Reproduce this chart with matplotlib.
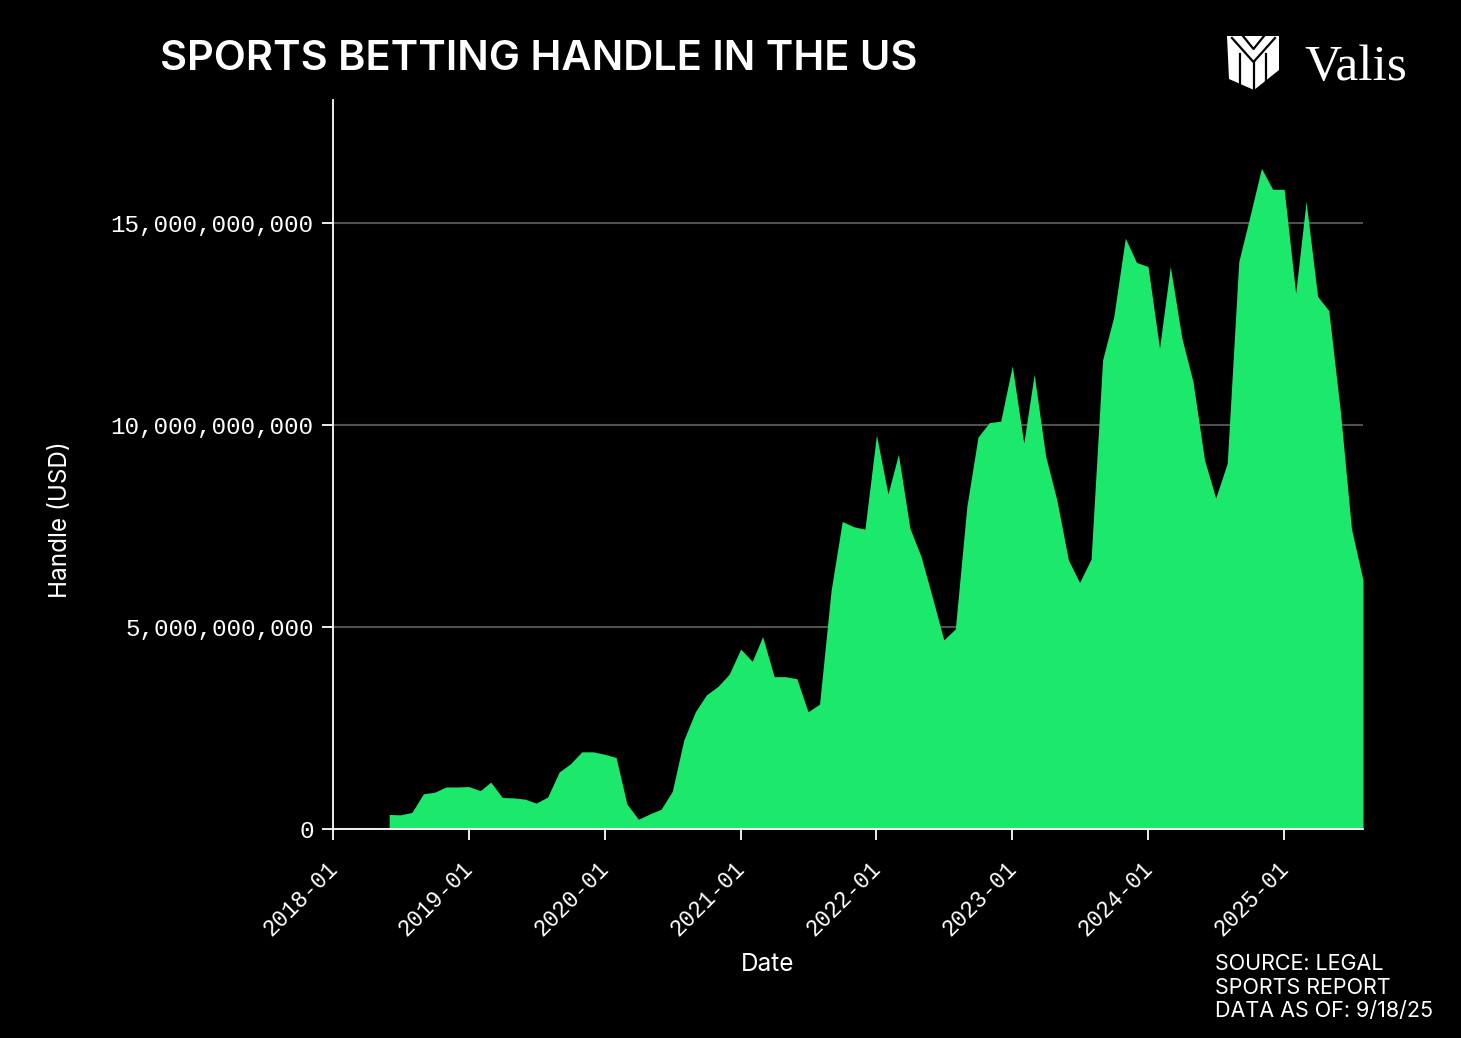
import matplotlib
matplotlib.use('Agg')
import matplotlib.pyplot as plt
import matplotlib.dates as mdates
import matplotlib.transforms as mtransforms
from matplotlib.ticker import FuncFormatter
from matplotlib.patches import Polygon
import pandas as pd

# monthly US sports betting handle, billions of USD
first_month = '2018-06-01'
handle_2018 = [0.36, 0.35, 0.41, 0.87, 0.91, 1.04, 1.04]
handle_2019 = [1.05, 0.95, 1.16, 0.78, 0.77, 0.74, 0.64, 0.79, 1.41, 1.61, 1.91, 1.91]
handle_2020 = [1.85, 1.77, 0.62, 0.24, 0.37, 0.49, 0.93, 2.20, 2.90, 3.32, 3.53, 3.83]
handle_2021 = [4.45, 4.15, 4.76, 3.77, 3.77, 3.72, 2.90, 3.09, 5.90, 7.61, 7.48, 7.42]
handle_2022 = [9.75, 8.29, 9.27, 7.44, 6.74, 5.71, 4.68, 4.95, 7.98, 9.70, 10.06, 10.09]
handle_2023 = [11.46, 9.55, 11.25, 9.22, 8.14, 6.66, 6.10, 6.68, 11.61, 12.68, 14.62, 14.02]
handle_2024 = [13.92, 11.90, 13.92, 12.15, 11.07, 9.13, 8.19, 9.05, 14.04, 15.16, 16.35, 15.83]
handle_2025 = [15.83, 13.26, 15.53, 13.18, 12.83, 10.35, 7.43, 6.16]

handle = (handle_2018 + handle_2019 + handle_2020 + handle_2021 +
          handle_2022 + handle_2023 + handle_2024 + handle_2025)
months = pd.date_range(first_month, periods=len(handle), freq='MS')

y_ticks = [0, 5, 10, 15]

GREEN = '#1ce96b'
W, H = 1461, 1038

fig = plt.figure(figsize=(W / 100, H / 100), dpi=100, facecolor='black')
ax = fig.add_axes([333 / W, 1 - 829 / H, 1030 / W, 729 / H], facecolor='black')

ax.fill_between(months, 0, handle, color=GREEN, linewidth=0, zorder=2)

ax.set_xlim(pd.Timestamp('2018-01-01'), months[-1])
ax.set_ylim(0, 18.04)

ax.set_yticks(y_ticks)
ax.yaxis.set_major_formatter(FuncFormatter(lambda v, _: f'{int(round(v * 1e9)):,}'))
ax.xaxis.set_major_locator(mdates.YearLocator())
ax.xaxis.set_major_formatter(mdates.DateFormatter('%Y-%m'))

ax.yaxis.grid(True, color='#505050', linewidth=1.5)
ax.set_axisbelow(True)

for s in ['top', 'right']:
    ax.spines[s].set_visible(False)
for s in ['left', 'bottom']:
    ax.spines[s].set_color('white')
    ax.spines[s].set_linewidth(1.3)
    ax.spines[s].set_zorder(3)

ax.tick_params(colors='white', length=8, width=1.3, labelsize=17.5, pad=6)
ax.tick_params(axis='x', labelsize=16.3)
for lbl in ax.get_xticklabels() + ax.get_yticklabels():
    lbl.set_fontfamily('Liberation Mono')
shift = mtransforms.ScaledTranslation(9 / 100, -8 / 100, fig.dpi_scale_trans)
for lbl in ax.get_xticklabels():
    lbl.set_rotation(45)
    lbl.set_ha('right')
    lbl.set_transform(lbl.get_transform() + shift)

ax.set_xlabel('Date', color='white', fontsize=17.5, fontfamily='Inter')
ax.xaxis.set_label_coords((768 - 333) / 1030, (829 - 953) / 729)
ax.set_ylabel('Handle (USD)', color='white', fontsize=17.5, fontfamily='Inter')
ax.yaxis.set_label_coords((72 - 333) / 1030, (829 - 520) / 729)

fig.text(160 / W, 1 - 70 / H, 'SPORTS BETTING HANDLE IN THE US', color='white',
         fontsize=30, fontfamily='Inter', fontweight='semibold', va='baseline')

source_lines = ['SOURCE: LEGAL', 'SPORTS REPORT', 'DATA AS OF: 9/18/25']
for i, line in enumerate(source_lines):
    fig.text(1215 / W, 1 - (970 + 23.5 * i) / H, line, color='white',
             fontsize=15.5, fontfamily='Inter', va='baseline')

# logo, drawn in pixel coordinates on an overlay
logo = fig.add_axes([0, 0, 1, 1], facecolor='none')
logo.set_xlim(0, W)
logo.set_ylim(H, 0)
logo.axis('off')
shield = [(1227, 36), (1279, 36), (1279, 70), (1254, 90), (1229, 79)]
logo.add_patch(Polygon(shield, closed=True, fc='white', ec='none'))
logo.plot([1232, 1253.5, 1275], [38, 62, 38], color='black', lw=1.6)
logo.plot([1243, 1253.5, 1264], [36, 49, 36], color='black', lw=1.6)
for x0, y0, y1 in [(1240, 54, 84), (1253.5, 62, 90), (1266, 54, 82)]:
    logo.plot([x0, x0], [y0, y1], color='black', lw=1.6)
logo.text(1304, 80, 'Valis', color='white', fontsize=37,
          fontfamily='Liberation Serif', va='baseline', ha='left')

fig.savefig('out.png', dpi=100, facecolor='black')
